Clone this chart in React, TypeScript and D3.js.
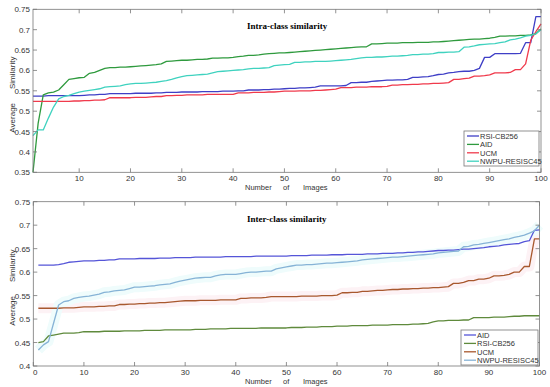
import React from 'react';
import * as d3 from 'd3';

// x positions (image index) 1..100
const imageIdx = d3.range(1, 101);

// ---- Intra-class similarity (top panel) ----
const intraRSI = [
  0.537, 0.537, 0.537, 0.538, 0.538, 0.538, 0.538, 0.538, 0.538, 0.538,
  0.539, 0.540, 0.540, 0.541, 0.541, 0.543, 0.543, 0.543, 0.543, 0.543,
  0.544, 0.544, 0.544, 0.544, 0.545, 0.545, 0.546, 0.546, 0.546, 0.547,
  0.547, 0.547, 0.547, 0.548, 0.548, 0.548, 0.548, 0.549, 0.549, 0.549,
  0.550, 0.550, 0.552, 0.552, 0.552, 0.553, 0.553, 0.554, 0.554, 0.555,
  0.556, 0.556, 0.557, 0.557, 0.558, 0.559, 0.562, 0.562, 0.562, 0.562,
  0.562, 0.563, 0.570, 0.570, 0.571, 0.571, 0.573, 0.574, 0.575, 0.576,
  0.576, 0.577, 0.577, 0.578, 0.583, 0.583, 0.584, 0.585, 0.587, 0.590,
  0.591, 0.594, 0.595, 0.597, 0.598, 0.598, 0.600, 0.605, 0.632, 0.632,
  0.641, 0.641, 0.641, 0.641, 0.641, 0.642, 0.668, 0.668, 0.732, 0.732,
];
const intraAID = [
  0.350, 0.470, 0.540, 0.545, 0.547, 0.552, 0.565, 0.578, 0.580, 0.582,
  0.583, 0.593, 0.595, 0.600, 0.605, 0.607, 0.607, 0.608, 0.608, 0.609,
  0.610, 0.611, 0.612, 0.613, 0.614, 0.616, 0.622, 0.623, 0.624, 0.625,
  0.625, 0.626, 0.627, 0.627, 0.628, 0.630, 0.630, 0.631, 0.631, 0.632,
  0.634, 0.635, 0.637, 0.637, 0.638, 0.640, 0.641, 0.642, 0.643, 0.643,
  0.644, 0.645, 0.646, 0.647, 0.648, 0.649, 0.650, 0.651, 0.652, 0.653,
  0.654, 0.655, 0.656, 0.657, 0.658, 0.658, 0.665, 0.665, 0.666, 0.667,
  0.667, 0.667, 0.668, 0.668, 0.668, 0.669, 0.669, 0.669, 0.670, 0.670,
  0.671, 0.672, 0.673, 0.674, 0.675, 0.676, 0.677, 0.677, 0.678, 0.679,
  0.681, 0.684, 0.684, 0.685, 0.685, 0.686, 0.686, 0.687, 0.690, 0.702,
];
const intraUCM = [
  0.524, 0.524, 0.524, 0.524, 0.524, 0.524, 0.524, 0.524, 0.525, 0.525,
  0.526, 0.526, 0.527, 0.527, 0.528, 0.533, 0.533, 0.533, 0.533, 0.533,
  0.534, 0.534, 0.534, 0.535, 0.536, 0.536, 0.538, 0.538, 0.539, 0.539,
  0.540, 0.540, 0.540, 0.540, 0.541, 0.541, 0.541, 0.541, 0.541, 0.541,
  0.545, 0.545, 0.545, 0.546, 0.546, 0.546, 0.547, 0.547, 0.548, 0.549,
  0.549, 0.549, 0.550, 0.550, 0.550, 0.551, 0.551, 0.552, 0.553, 0.554,
  0.558, 0.558, 0.558, 0.559, 0.559, 0.559, 0.560, 0.560, 0.560, 0.561,
  0.564, 0.564, 0.565, 0.565, 0.566, 0.566, 0.567, 0.567, 0.568, 0.568,
  0.569, 0.570, 0.578, 0.578, 0.580, 0.581, 0.586, 0.586, 0.587, 0.589,
  0.594, 0.594, 0.594, 0.595, 0.602, 0.602, 0.616, 0.674, 0.695, 0.714,
];
const intraNWPU = [
  0.440, 0.454, 0.454, 0.483, 0.510, 0.530, 0.536, 0.539, 0.543, 0.547,
  0.549, 0.551, 0.553, 0.555, 0.559, 0.560, 0.561, 0.562, 0.565, 0.567,
  0.568, 0.568, 0.569, 0.570, 0.571, 0.573, 0.575, 0.578, 0.582, 0.585,
  0.587, 0.588, 0.589, 0.590, 0.591, 0.594, 0.597, 0.598, 0.599, 0.600,
  0.601, 0.602, 0.604, 0.605, 0.605, 0.606, 0.607, 0.612, 0.613, 0.614,
  0.615, 0.620, 0.620, 0.621, 0.621, 0.622, 0.622, 0.622, 0.623, 0.624,
  0.625, 0.626, 0.627, 0.629, 0.631, 0.632, 0.632, 0.633, 0.633, 0.634,
  0.635, 0.635, 0.636, 0.637, 0.639, 0.639, 0.640, 0.640, 0.641, 0.644,
  0.644, 0.645, 0.645, 0.646, 0.657, 0.658, 0.660, 0.663, 0.664, 0.665,
  0.666, 0.668, 0.670, 0.675, 0.677, 0.680, 0.684, 0.686, 0.690, 0.700,
];

// ---- Inter-class similarity (bottom panel) ----
const interAID = [
  0.615, 0.615, 0.615, 0.615, 0.616, 0.618, 0.621, 0.622, 0.623, 0.624,
  0.624, 0.624, 0.625, 0.625, 0.626, 0.626, 0.628, 0.628, 0.628, 0.628,
  0.629, 0.629, 0.629, 0.629, 0.630, 0.630, 0.630, 0.631, 0.631, 0.631,
  0.631, 0.632, 0.632, 0.632, 0.632, 0.632, 0.632, 0.633, 0.633, 0.633,
  0.633, 0.633, 0.633, 0.634, 0.634, 0.634, 0.634, 0.634, 0.634, 0.634,
  0.635, 0.635, 0.635, 0.635, 0.636, 0.636, 0.636, 0.636, 0.637, 0.637,
  0.637, 0.638, 0.638, 0.638, 0.638, 0.639, 0.639, 0.639, 0.640, 0.640,
  0.640, 0.641, 0.641, 0.642, 0.642, 0.643, 0.643, 0.644, 0.645, 0.646,
  0.646, 0.647, 0.647, 0.648, 0.649, 0.649, 0.650, 0.651, 0.652, 0.654,
  0.655, 0.656, 0.658, 0.659, 0.660, 0.661, 0.665, 0.667, 0.689, 0.690,
];
const interRSI = [
  0.450, 0.452, 0.464, 0.466, 0.468, 0.470, 0.470, 0.470, 0.471, 0.473,
  0.473, 0.473, 0.473, 0.474, 0.474, 0.474, 0.474, 0.475, 0.475, 0.475,
  0.475, 0.476, 0.476, 0.476, 0.476, 0.477, 0.477, 0.477, 0.477, 0.477,
  0.477, 0.478, 0.478, 0.478, 0.479, 0.479, 0.479, 0.479, 0.480, 0.480,
  0.480, 0.480, 0.480, 0.480, 0.481, 0.481, 0.481, 0.481, 0.481, 0.481,
  0.482, 0.482, 0.482, 0.483, 0.483, 0.483, 0.484, 0.484, 0.484, 0.485,
  0.485, 0.485, 0.486, 0.486, 0.486, 0.486, 0.487, 0.487, 0.487, 0.487,
  0.488, 0.488, 0.488, 0.488, 0.489, 0.489, 0.490, 0.491, 0.494, 0.496,
  0.496, 0.497, 0.497, 0.497, 0.498, 0.498, 0.503, 0.503, 0.503, 0.503,
  0.504, 0.504, 0.504, 0.505, 0.506, 0.506, 0.507, 0.507, 0.507, 0.507,
];
const interUCM = [
  0.523, 0.523, 0.523, 0.523, 0.523, 0.524, 0.524, 0.524, 0.525, 0.526,
  0.526, 0.526, 0.527, 0.527, 0.528, 0.528, 0.531, 0.531, 0.532, 0.532,
  0.533, 0.533, 0.534, 0.534, 0.535, 0.535, 0.536, 0.537, 0.538, 0.539,
  0.539, 0.539, 0.540, 0.540, 0.540, 0.540, 0.541, 0.541, 0.541, 0.541,
  0.544, 0.544, 0.545, 0.545, 0.545, 0.546, 0.548, 0.548, 0.548, 0.548,
  0.548, 0.548, 0.549, 0.549, 0.549, 0.549, 0.550, 0.550, 0.550, 0.551,
  0.556, 0.556, 0.557, 0.557, 0.559, 0.559, 0.560, 0.561, 0.561, 0.562,
  0.563, 0.563, 0.564, 0.564, 0.565, 0.565, 0.566, 0.566, 0.567, 0.567,
  0.568, 0.569, 0.576, 0.576, 0.578, 0.582, 0.582, 0.585, 0.585, 0.587,
  0.592, 0.592, 0.593, 0.595, 0.600, 0.600, 0.612, 0.612, 0.671, 0.671,
];
const interNWPU = [
  0.434, 0.445, 0.452, 0.491, 0.530, 0.537, 0.539, 0.544, 0.546, 0.548,
  0.549, 0.551, 0.553, 0.557, 0.558, 0.560, 0.561, 0.562, 0.565, 0.568,
  0.568, 0.569, 0.570, 0.571, 0.573, 0.574, 0.575, 0.578, 0.581, 0.583,
  0.585, 0.587, 0.588, 0.589, 0.589, 0.592, 0.594, 0.595, 0.595, 0.595,
  0.597, 0.599, 0.600, 0.600, 0.601, 0.602, 0.602, 0.607, 0.609, 0.611,
  0.613, 0.615, 0.615, 0.616, 0.616, 0.617, 0.618, 0.619, 0.619, 0.620,
  0.621, 0.622, 0.623, 0.624, 0.626, 0.627, 0.628, 0.629, 0.630, 0.631,
  0.632, 0.632, 0.633, 0.634, 0.635, 0.636, 0.637, 0.638, 0.639, 0.641,
  0.642, 0.643, 0.644, 0.645, 0.654, 0.655, 0.658, 0.659, 0.661, 0.663,
  0.665, 0.667, 0.669, 0.671, 0.674, 0.676, 0.679, 0.683, 0.688, 0.700,
];

// tick values
const intraYTicks = [0.35, 0.4, 0.45, 0.5, 0.55, 0.6, 0.65, 0.7, 0.75];
const interYTicks = [0.4, 0.45, 0.5, 0.55, 0.6, 0.65, 0.7, 0.75];
const intraXTicks = [10, 20, 30, 40, 50, 60, 70, 80, 90, 100];
const interXTicks = [0, 10, 20, 30, 40, 50, 60, 70, 80, 90, 100];

const intraSeries = [
  { name: 'RSI-CB256', values: intraRSI, color: '#3f3fc6' },
  { name: 'AID', values: intraAID, color: '#2f9a3e' },
  { name: 'UCM', values: intraUCM, color: '#f03a4c' },
  { name: 'NWPU-RESISC45', values: intraNWPU, color: '#3fd2bf' },
];
const interSeries = [
  { name: 'AID', values: interAID, color: '#5555d8' },
  { name: 'RSI-CB256', values: interRSI, color: '#5f8a3c' },
  { name: 'UCM', values: interUCM, color: '#a8582e', halo: '#fdf2f5' },
  { name: 'NWPU-RESISC45', values: interNWPU, color: '#86b3d6', halo: '#effcfc' },
];

const sans = 'Liberation Sans, Arial, sans-serif';
const tickColor = '#333';

function Panel({ box, title, series, xDomain, yDomain, xTicks, yTicks, legendBox }) {
  const x = d3.scaleLinear().domain(xDomain).range([box.left, box.right]);
  const y = d3.scaleLinear().domain(yDomain).range([box.bottom, box.top]);
  const line = d3.line<number>()
    .x((d, i) => x(imageIdx[i]))
    .y(d => y(d));
  const tl = 4;
  const cy = (box.top + box.bottom) / 2;
  return (
    <g>
      {/* faint bands behind some lines */}
      {series.filter(s => s.halo).map(s => (
        <path key={'h' + s.name} d={line(s.values) || ''} fill="none"
          stroke={s.halo} strokeWidth={10} strokeLinejoin="round" />
      ))}
      {series.map(s => (
        <path key={s.name} d={line(s.values) || ''} fill="none"
          stroke={s.color} strokeWidth={1.3} strokeLinejoin="round" />
      ))}
      <rect x={box.left} y={box.top} width={box.right - box.left} height={box.bottom - box.top}
        fill="none" stroke="#777" strokeWidth={0.8} />
      {xTicks.map(t => (
        <g key={'x' + t}>
          <line x1={x(t)} x2={x(t)} y1={box.bottom} y2={box.bottom - tl} stroke="#777" strokeWidth={0.8} />
          <line x1={x(t)} x2={x(t)} y1={box.top} y2={box.top + tl} stroke="#777" strokeWidth={0.8} />
          <text x={x(t) + (t === 0 ? 2 : 0)} y={box.bottom + 9} textAnchor="middle"
            fontSize={8} fontFamily={sans} fill={tickColor}>{t}</text>
        </g>
      ))}
      {yTicks.map(t => (
        <g key={'y' + t}>
          <line x1={box.left} x2={box.left + tl} y1={y(t)} y2={y(t)} stroke="#777" strokeWidth={0.8} />
          <line x1={box.right} x2={box.right - tl} y1={y(t)} y2={y(t)} stroke="#777" strokeWidth={0.8} />
          <text x={box.left - 3} y={y(t) + 3} textAnchor="end"
            fontSize={8} fontFamily={sans} fill={tickColor}>{String(t)}</text>
        </g>
      ))}
      <text x={247} y={box.top + 20} fontSize={9} fontWeight="bold"
        fontFamily="Liberation Serif, Times New Roman, serif" fill="#000">{title}</text>
      {/* y label */}
      <text transform={`translate(15,${cy + 27}) rotate(-90)`} textAnchor="middle"
        fontSize={8} fontFamily={sans} fill={tickColor}>Average</text>
      <text transform={`translate(15,${cy - 18}) rotate(-90)`} textAnchor="middle"
        fontSize={8} fontFamily={sans} fill={tickColor}>Similarity</text>
      {/* x label */}
      <text x={245} y={box.bottom + 17.5} fontSize={7.5} fontFamily={sans} fill={tickColor}>Number</text>
      <text x={283} y={box.bottom + 17.5} fontSize={7.5} fontFamily={sans} fill={tickColor}>of</text>
      <text x={303} y={box.bottom + 17.5} fontSize={7.5} fontFamily={sans} fill={tickColor}>Images</text>
      {/* legend */}
      <rect x={legendBox.x} y={legendBox.y} width={legendBox.w} height={legendBox.h}
        fill="#fff" stroke="#777" strokeWidth={0.8} />
      {series.map((s, i) => {
        const ly = legendBox.y + 5 + i * 8.4;
        return (
          <g key={'l' + s.name}>
            <line x1={legendBox.x + 3} x2={legendBox.x + 15} y1={ly} y2={ly} stroke={s.color} strokeWidth={1.3} />
            <text x={legendBox.x + 16} y={ly + 2.8} fontSize={7.5} fontFamily={sans} fill={tickColor}>{s.name}</text>
          </g>
        );
      })}
    </g>
  );
}

export default function App() {
  return (
    <svg width={550} height={387} style={{ position: 'absolute', left: 0, top: 0, background: '#fff' }}>
      <rect width={550} height={387} fill="#fff" />
      <Panel
        box={{ left: 33, right: 541, top: 9.3, bottom: 172.3 }}
        title="Intra-class similarity"
        series={intraSeries}
        xDomain={[1, 100]}
        yDomain={[0.35, 0.75]}
        xTicks={intraXTicks}
        yTicks={intraYTicks}
        legendBox={{ x: 464, y: 131, w: 75, h: 35 }}
      />
      <Panel
        box={{ left: 33.3, right: 539.5, top: 201.7, bottom: 366 }}
        title="Inter-class similarity"
        series={interSeries}
        xDomain={[0, 100]}
        yDomain={[0.4, 0.75]}
        xTicks={interXTicks}
        yTicks={interYTicks}
        legendBox={{ x: 461, y: 330, w: 77, h: 35 }}
      />
    </svg>
  );
}
